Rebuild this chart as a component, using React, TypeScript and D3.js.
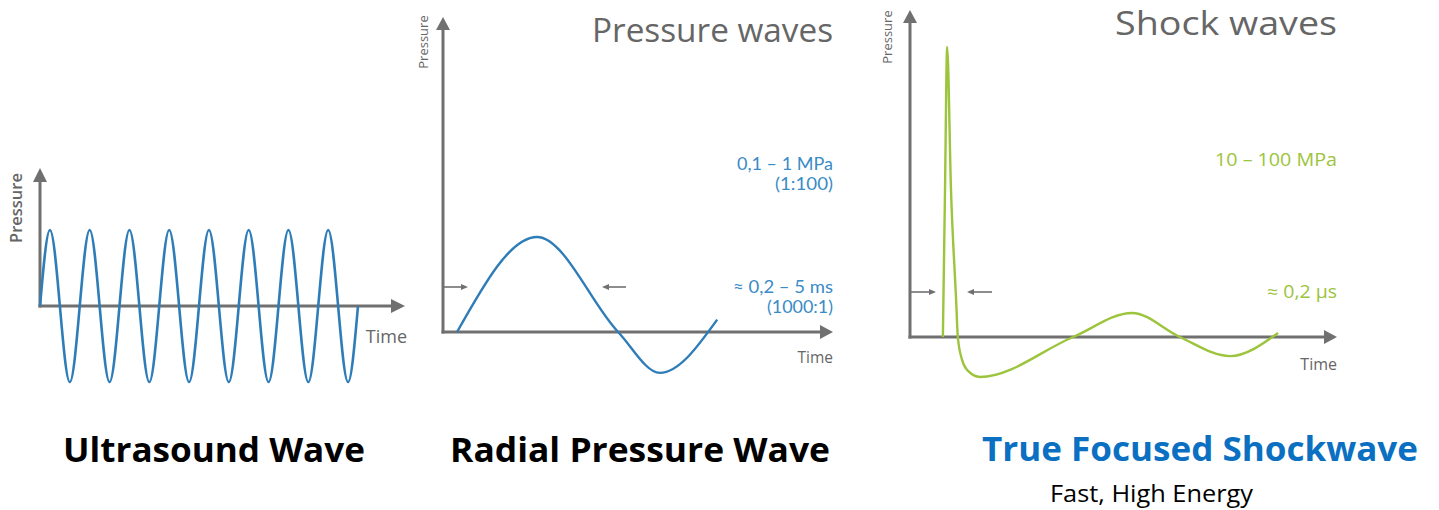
import React from "react";
import * as d3 from "d3";

// ---------- Data ----------
// Ultrasound: continuous sinusoid, 8 cycles, sampled at quarter cycles (time in cycles, pressure relative)
const ultrasoundTime = [
  0, 0.25, 0.5, 0.75, 1, 1.25, 1.5, 1.75, 2, 2.25, 2.5, 2.75, 3, 3.25, 3.5, 3.75, 4,
  4.25, 4.5, 4.75, 5, 5.25, 5.5, 5.75, 6, 6.25, 6.5, 6.75, 7, 7.25, 7.5, 7.75, 8,
];
const ultrasoundPressure = [
  0, 1, 0, -1, 0, 1, 0, -1, 0, 1, 0, -1, 0, 1, 0, -1, 0,
  1, 0, -1, 0, 1, 0, -1, 0, 1, 0, -1, 0, 1, 0, -1, 0,
];

// Radial pressure wave (time 0-100 relative, pressure relative to peak)
const radialTime = [3.6, 24.1, 44.9, 55.6, 70.3];
const radialPressure = [0, 1, 0, -0.43, 0.13];

// Shock wave (time 0-100 relative, pressure 0-100 relative)
const shockTime = [7.7, 8.2, 8.7, 9.6, 10.8, 11.2, 12.2, 13.6, 16.4, 38.2, 52.0, 63.2, 74.9, 86.2];
const shockPressure = [0, 50.7, 100, 50.7, 12.8, 0, -7.9, -11.7, -13.8, 0, 8.3, 0, -6.6, 1.4];

// Text
const panelTitles = ["Pressure waves", "Shock waves"];
const radialNotes = ["0,1 – 1 MPa", "(1:100)", "≈ 0,2 – 5 ms", "(1000:1)"];
const shockNotes = ["10 – 100 MPa", "≈ 0,2 µs"];
const captions = ["Ultrasound Wave", "Radial Pressure Wave", "True Focused Shockwave"];
const subCaption = "Fast, High Energy";
const axisLabels = ["Pressure", "Time"];

// ---------- Styles ----------
const AXIS = "#707070";
const TEXT_GRAY = "#666666";
const BLUE_LINE = "#2f7db8";
const BLUE_TEXT = "#3a8bc6";
const GREEN = "#9cc43c";
const CAPTION_BLUE = "#0b70c2";
const FONT = "'Open Sans', 'DejaVu Sans', sans-serif";
const NOTE_FONT = "Lato, 'Open Sans', sans-serif";

function AxisArrows({ x0, y0, yTop, xEnd, len = 13, hw = 7 }: { x0: number; y0: number; yTop: number; xEnd: number; len?: number; hw?: number }) {
  return (
    <g>
      <line x1={x0} y1={y0 + 1.5} x2={x0} y2={yTop + len - 1} stroke={AXIS} strokeWidth={3} />
      <line x1={x0 - 1.5} y1={y0} x2={xEnd - len + 1} y2={y0} stroke={AXIS} strokeWidth={3} />
      <path d={`M${x0},${yTop} L${x0 + hw},${yTop + len} L${x0 - hw},${yTop + len} Z`} fill={AXIS} />
      <path d={`M${xEnd},${y0} L${xEnd - len},${y0 - hw} L${xEnd - len},${y0 + hw} Z`} fill={AXIS} />
    </g>
  );
}

function SmallArrow({ from, to, y }: { from: number; to: number; y: number }) {
  const dir = Math.sign(to - from);
  const head = 7;
  return (
    <g>
      <line x1={from} y1={y} x2={to - dir * head} y2={y} stroke={AXIS} strokeWidth={1.6} />
      <path d={`M${to},${y} L${to - dir * head},${y - 3} L${to - dir * head},${y + 3} Z`} fill={AXIS} />
    </g>
  );
}

function Note({ x, y, w, fill, size = 17, family, children }: { x: number; y: number; w: number; fill: string; size?: number; family?: string; children: React.ReactNode }) {
  return (
    <text x={x - w} y={y} fontSize={size} fill={fill} fontFamily={family} textLength={w} lengthAdjust="spacingAndGlyphs">
      {children}
    </text>
  );
}

export default function App() {
  // Panel 1: ultrasound
  const ux = d3.scaleLinear().domain([0, 8]).range([40, 358]);
  const uy = d3.scaleLinear().domain([-1, 1]).range([382, 230]);
  const uLine = d3
    .line<number>()
    .x((_, i) => ux(ultrasoundTime[i]))
    .y((d) => uy(d))
    .curve(d3.curveNatural);

  // Panel 2: radial
  const rx = d3.scaleLinear().domain([0, 100]).range([443, 833]);
  const ry = d3.scaleLinear().domain([0, 1]).range([332, 237]);
  const rLine = d3
    .line<number>()
    .x((_, i) => rx(radialTime[i]))
    .y((d) => ry(d))
    .curve(d3.curveMonotoneX);

  // Panel 3: shock
  const sx = d3.scaleLinear().domain([0, 100]).range([910, 1337]);
  const sy = d3.scaleLinear().domain([0, 100]).range([337, 47]);
  const sLine = d3
    .line<number>()
    .x((_, i) => sx(shockTime[i]))
    .y((d) => sy(d))
    .curve(d3.curveMonotoneX);

  return (
    <svg
      width={1439}
      height={510}
      style={{ position: "absolute", left: 0, top: 0, background: "#fff" }}
      fontFamily={FONT}
    >
      {/* ---------- Panel 1 ---------- */}
      <AxisArrows x0={ux(0)} y0={uy(0)} yTop={168} xEnd={405} len={14} hw={7} />
      <text
        transform={`translate(${22},${208}) rotate(-90)`}
        textAnchor="middle"
        fontSize={16.5}
        fontWeight={600}
        fill={TEXT_GRAY}
      >
        {axisLabels[0]}
      </text>
      <text x={407} y={343} textAnchor="end" fontSize={18} fill={TEXT_GRAY}>
        {axisLabels[1]}
      </text>
      <path d={uLine(ultrasoundPressure) || ""} fill="none" stroke={BLUE_LINE} strokeWidth={2.6} />

      {/* ---------- Panel 2 ---------- */}
      <AxisArrows x0={rx(0)} y0={ry(0)} yTop={17} xEnd={833} len={13} hw={7} />
      <text
        transform={`translate(${428},${42}) rotate(-90)`}
        textAnchor="middle"
        fontSize={13}
        fill={TEXT_GRAY}
      >
        {axisLabels[0]}
      </text>
      <text x={833} y={363} textAnchor="end" fontSize={15.5} fill={TEXT_GRAY}>
        {axisLabels[1]}
      </text>
      <Note x={833} y={42} w={241} size={32} fill={TEXT_GRAY}>{panelTitles[0]}</Note>
      <Note x={833} y={170} w={96} size={16.5} family={NOTE_FONT} fill={BLUE_TEXT}>{radialNotes[0]}</Note>
      <Note x={833} y={190} w={58} size={16.5} family={NOTE_FONT} fill={BLUE_TEXT}>{radialNotes[1]}</Note>
      <Note x={833} y={293} w={100} size={16.5} family={NOTE_FONT} fill={BLUE_TEXT}>{radialNotes[2]}</Note>
      <Note x={833} y={313} w={66} size={16.5} family={NOTE_FONT} fill={BLUE_TEXT}>{radialNotes[3]}</Note>
      <SmallArrow from={rx(0)} to={468} y={287} />
      <SmallArrow from={626} to={602} y={287} />
      <path d={rLine(radialPressure) || ""} fill="none" stroke={BLUE_LINE} strokeWidth={2.4} />

      {/* ---------- Panel 3 ---------- */}
      <AxisArrows x0={sx(0)} y0={sy(0)} yTop={10} xEnd={1337} len={13} hw={7} />
      <text
        transform={`translate(${892},${37}) rotate(-90)`}
        textAnchor="middle"
        fontSize={13}
        fill={TEXT_GRAY}
      >
        {axisLabels[0]}
      </text>
      <text x={1337} y={370} textAnchor="end" fontSize={16} fill={TEXT_GRAY}>
        {axisLabels[1]}
      </text>
      <Note x={1337} y={35} w={222} size={32} fill={TEXT_GRAY}>{panelTitles[1]}</Note>
      <Note x={1337} y={166} w={122} size={17.5} fill={GREEN}>{shockNotes[0]}</Note>
      <Note x={1337} y={298} w={70} size={17.5} fill={GREEN}>{shockNotes[1]}</Note>
      <SmallArrow from={sx(0)} to={936} y={292} />
      <SmallArrow from={992} to={967} y={292} />
      <path d={sLine(shockPressure) || ""} fill="none" stroke={GREEN} strokeWidth={2.4} strokeLinejoin="round" />

      {/* ---------- Captions ---------- */}
      <text x={63} y={462} fontSize={34} fontWeight={700} fill="#000" textLength={302} lengthAdjust="spacingAndGlyphs">
        {captions[0]}
      </text>
      <text x={450} y={462} fontSize={34} fontWeight={700} fill="#000" textLength={380} lengthAdjust="spacingAndGlyphs">
        {captions[1]}
      </text>
      <text x={982} y={461} fontSize={34} fontWeight={700} fill={CAPTION_BLUE} textLength={436} lengthAdjust="spacingAndGlyphs">
        {captions[2]}
      </text>
      <text x={1050} y={502} fontSize={24} fill="#000" textLength={203} lengthAdjust="spacingAndGlyphs">
        {subCaption}
      </text>
    </svg>
  );
}
